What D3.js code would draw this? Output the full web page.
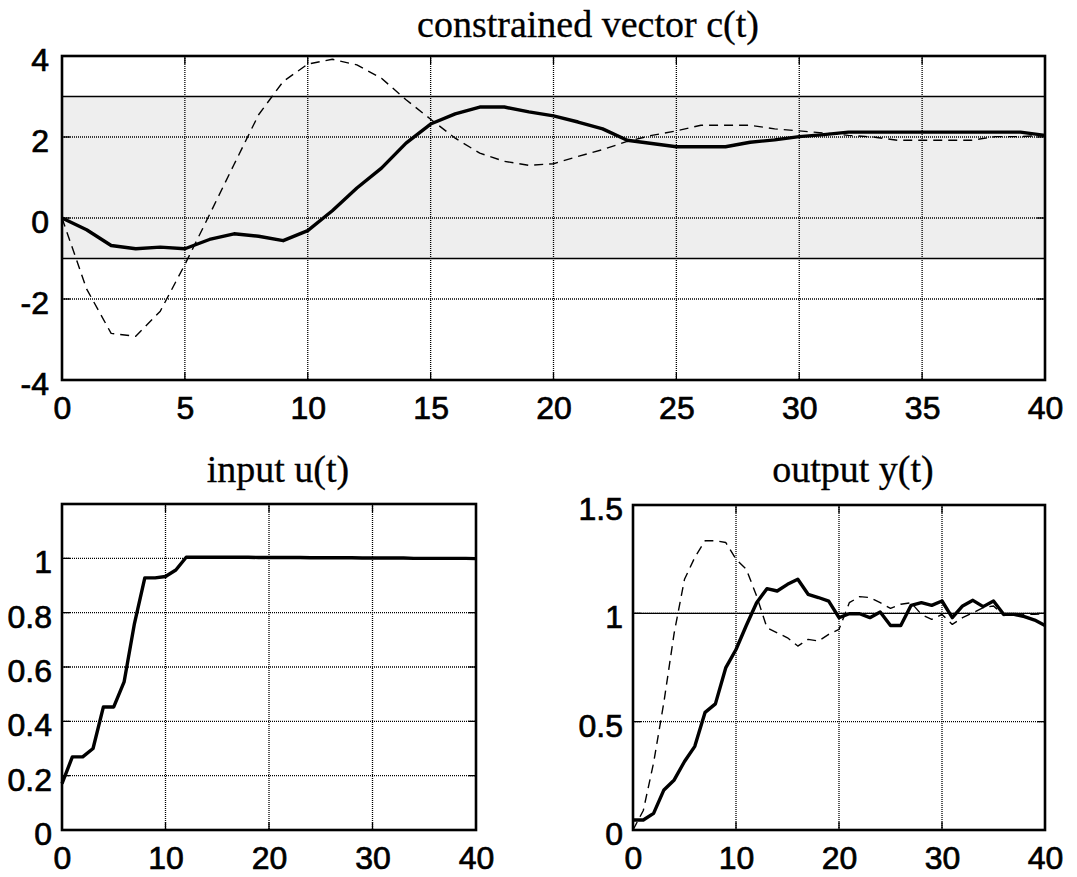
<!DOCTYPE html>
<html><head><meta charset="utf-8">
<script src="https://cdn.jsdelivr.net/npm/d3@7"></script>
<style>body{margin:0;background:#fff}</style></head><body>
<svg id="c" width="1077" height="877"></svg>
<script>
// ---- data ----
const time = [0,1,2,3,4,5,6,7,8,9,10,11,12,13,14,15,16,17,18,19,20,21,22,23,24,25,26,27,28,29,30,31,32,33,34,35,36,37,38,39,40];
const cSolid = [0,-0.29,-0.68,-0.76,-0.72,-0.76,-0.53,-0.39,-0.45,-0.56,-0.31,0.18,0.74,1.23,1.85,2.32,2.57,2.74,2.74,2.62,
  2.52,2.37,2.20,1.92,1.84,1.76,1.76,1.76,1.87,1.93,2.01,2.06,2.12,2.12,2.12,2.12,2.12,2.12,2.12,2.12,2.04];
const cDashed = [0,-1.75,-2.85,-2.92,-2.30,-1.15,0.08,1.32,2.55,3.37,3.80,3.92,3.78,3.45,2.92,2.44,1.97,1.60,1.40,1.30,
  1.34,1.52,1.69,1.89,2.04,2.15,2.29,2.29,2.29,2.20,2.15,2.10,2.04,2.00,1.92,1.92,1.92,1.92,2.01,2.01,2.04];
const uInput = [0.171,0.269,0.269,0.30,0.453,0.453,0.545,0.76,0.928,0.928,0.933,0.957,1.004,1.004,1.004,1.004,1.004,1.004,1.004,1.003,
  1.003,1.003,1.003,1.003,1.002,1.002,1.002,1.002,1.002,1.001,1.001,1.001,1.001,1.001,1.000,1.000,1.000,1.000,1.000,1.000,0.999];
const ySolid = [0.046,0.046,0.077,0.185,0.231,0.316,0.386,0.543,0.582,0.748,0.833,0.944,1.049,1.114,1.103,1.134,1.157,1.088,1.073,1.056,
  0.980,0.998,0.998,0.980,1.006,0.944,0.944,1.037,1.049,1.037,1.057,0.980,1.034,1.060,1.031,1.057,0.995,0.995,0.985,0.969,0.944];
const yDashed = [0,0.09,0.31,0.59,0.91,1.157,1.258,1.335,1.335,1.327,1.25,1.204,1.08,0.934,0.91,0.887,0.849,0.88,0.872,0.903,
  0.926,1.049,1.077,1.073,1.049,1.023,1.042,1.049,0.995,0.972,0.995,0.949,0.980,1.003,1.026,1.034,0.99,1.0,0.995,0.995,1.0];
const topTicksX = [0,5,10,15,20,25,30,35,40];
const topTicksY = [-4,-2,0,2,4];
const bottomTicksX = [0,10,20,30,40];
const uTicksY = [0,0.2,0.4,0.6,0.8,1];
const yTicksY = [0,0.5,1,1.5];
const cBand = [-1,3];
const yRefLine = [1];
const titles = ["constrained vector c(t)","input u(t)","output y(t)"];

// ---- drawing ----
const svg = d3.select("#c");
const fmt = d => String(d);

function styleTick(sel){
  sel.attr("fill","#000").attr("stroke","#000").attr("stroke-width",0.7)
    .style("font-family","'Liberation Sans',Arial,sans-serif").style("font-size","32px");
}

function panel(o){
  const x = d3.scaleLinear().domain(o.xd).range([o.left,o.right]);
  const y = d3.scaleLinear().domain(o.yd).range([o.bottom,o.top]);
  const g = svg.append("g");
  if(o.band){
    g.append("rect").attr("x",o.left).attr("width",o.right-o.left)
      .attr("y",y(o.band[1])).attr("height",y(o.band[0])-y(o.band[1]))
      .attr("fill","#eeeeee");
  }
  const gridX = o.xt.filter(v=>v!==o.xd[0]&&v!==o.xd[1]);
  const gridY = o.yt.filter(v=>v!==o.yd[0]&&v!==o.yd[1]);
  g.selectAll(".gx").data(gridX).join("line")
    .attr("x1",d=>x(d)).attr("x2",d=>x(d)).attr("y1",o.top).attr("y2",o.bottom)
    .attr("stroke","#000").attr("stroke-width",1.3).attr("stroke-dasharray","1,1");
  g.selectAll(".gy").data(gridY).join("line")
    .attr("y1",d=>y(d)).attr("y2",d=>y(d)).attr("x1",o.left).attr("x2",o.right)
    .attr("stroke","#000").attr("stroke-width",1.3).attr("stroke-dasharray","1,1");
  const tl = 8;
  gridX.forEach(v=>{
    g.append("line").attr("x1",x(v)).attr("x2",x(v)).attr("y1",o.bottom).attr("y2",o.bottom-tl).attr("stroke","#000").attr("stroke-width",1.3);
    g.append("line").attr("x1",x(v)).attr("x2",x(v)).attr("y1",o.top).attr("y2",o.top+tl).attr("stroke","#000").attr("stroke-width",1.3);
  });
  gridY.forEach(v=>{
    g.append("line").attr("y1",y(v)).attr("y2",y(v)).attr("x1",o.left).attr("x2",o.left+tl).attr("stroke","#000").attr("stroke-width",1.3);
    g.append("line").attr("y1",y(v)).attr("y2",y(v)).attr("x1",o.right).attr("x2",o.right-tl).attr("stroke","#000").attr("stroke-width",1.3);
  });
  (o.hlines||[]).forEach(v=>{
    g.append("line").attr("x1",o.left).attr("x2",o.right).attr("y1",y(v)).attr("y2",y(v))
      .attr("stroke","#000").attr("stroke-width",1.4);
  });
  const line = d3.line().x((d,i)=>x(time[i])).y(d=>y(d));
  o.series.forEach(s=>{
    g.append("path").datum(s.v).attr("d",line).attr("fill","none")
      .attr("stroke","#000").attr("stroke-width",s.dash?1.4:3.4)
      .attr("stroke-dasharray",s.dash?"9,6":null).attr("stroke-linejoin","round");
  });
  g.append("rect").attr("x",o.left).attr("y",o.top).attr("width",o.right-o.left).attr("height",o.bottom-o.top)
    .attr("fill","none").attr("stroke","#000").attr("stroke-width",2.6);
  const ax = d3.axisBottom(x).tickValues(o.xt).tickSize(0).tickPadding(0).tickFormat(fmt);
  const gx = g.append("g").attr("transform",`translate(0,${o.bottom})`).call(ax);
  gx.select(".domain").remove();
  gx.selectAll("text").attr("y",39).attr("dy",null).call(styleTick);
  const ay = d3.axisLeft(y).tickValues(o.yt).tickSize(0).tickPadding(0).tickFormat(fmt);
  const gy = g.append("g").attr("transform",`translate(${o.left},0)`).call(ay);
  gy.select(".domain").remove();
  gy.selectAll("text").attr("x",-o.lgap).attr("dy","0.36em").attr("transform","translate(0,3)").call(styleTick);
  svg.append("text").attr("x",o.titleX).attr("y",o.titleY).attr("text-anchor","middle")
    .attr("fill","#000").attr("stroke","#000").attr("stroke-width",0.3)
    .style("font-family","'Liberation Serif','Times New Roman',serif").style("font-size","38px")
    .text(o.title);
}

panel({left:62,right:1045,top:56,bottom:380,xd:[0,40],yd:[-4,4],xt:topTicksX,yt:topTicksY,
  band:cBand,hlines:cBand,lgap:13,titleX:588,titleY:37,title:titles[0],
  series:[{v:cDashed,dash:true},{v:cSolid}]});
panel({left:62,right:476,top:504,bottom:830,xd:[0,40],yd:[0,1.2],xt:bottomTicksX,yt:uTicksY,
  lgap:10,titleX:278,titleY:482,title:titles[1],series:[{v:uInput}]});
panel({left:633,right:1045,top:505,bottom:830,xd:[0,40],yd:[0,1.5],xt:bottomTicksX,yt:yTicksY,
  hlines:yRefLine,lgap:10,titleX:853,titleY:482,title:titles[2],
  series:[{v:yDashed,dash:true},{v:ySolid}]});
</script>
</body></html>
